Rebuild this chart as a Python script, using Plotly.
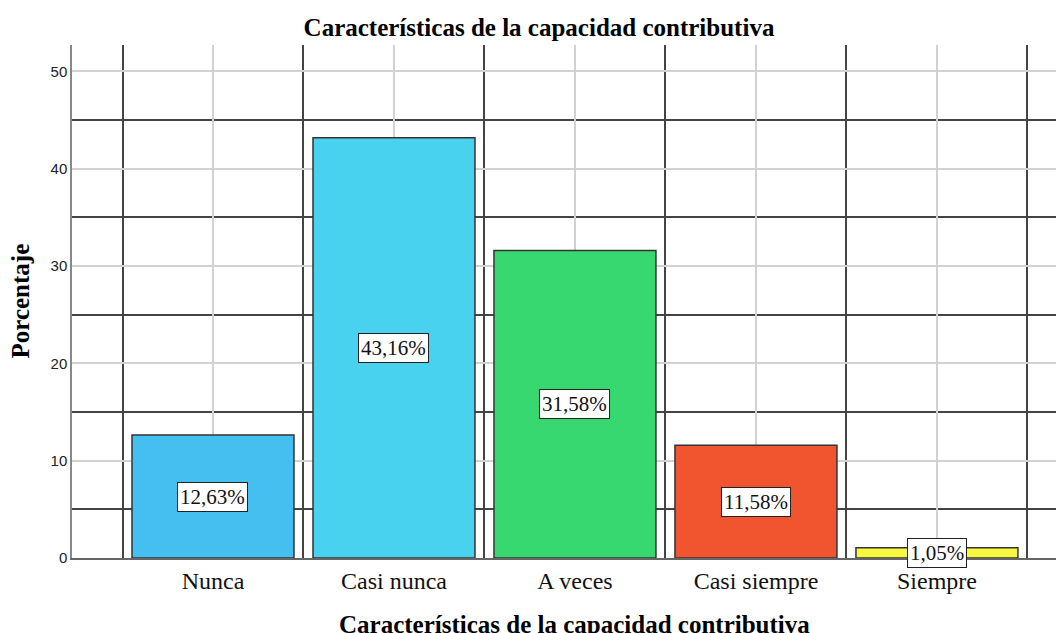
import plotly.graph_objects as go

categorias = ["Nunca", "Casi nunca", "A veces", "Casi siempre", "Siempre"]
porcentajes = [12.63, 43.16, 31.58, 11.58, 1.05]
colores = ["#44BFF0", "#48D2F0", "#38D870", "#F05530", "#F8F840"]
y_ticks = [0, 10, 20, 30, 40, 50]

serif = "Liberation Serif, Times New Roman, serif"
pos = list(range(len(categorias)))

fig = go.Figure()
fig.add_trace(go.Bar(
    x=pos, y=porcentajes, width=0.895,
    marker=dict(color=colores, line=dict(color="#333333", width=1.5)),
    hoverinfo="skip",
))

# etiquetas con caja blanca al centro de cada barra
for i, v in enumerate(porcentajes):
    fig.add_annotation(
        x=i, y=v / 2, text=f"{v:.2f}%".replace(".", ","),
        showarrow=False, bgcolor="white", bordercolor="#222222",
        borderwidth=1, borderpad=2,
        font=dict(family=serif, size=21, color="#111111"),
    )

# titulos de ejes como anotaciones para fijar su posición
fig.add_annotation(
    text="<b>Porcentaje</b>", xref="paper", yref="paper",
    x=-0.0524, y=0.5, xanchor="center", yanchor="middle",
    textangle=-90, showarrow=False,
    font=dict(family=serif, size=25, color="black"),
)
fig.add_annotation(
    text="<b>Características de la capacidad contributiva</b>",
    xref="paper", yref="paper", x=0.507, y=-0.1287,
    xanchor="center", yanchor="middle", showarrow=False,
    font=dict(family=serif, size=25, color="black"),
)

# la página deja 8px de margen, así que la figura es 8px más chica
fig.update_layout(
    width=1056, height=625,
    margin=dict(l=64, r=0, t=37, b=75),
    plot_bgcolor="white", paper_bgcolor="white",
    showlegend=False,
    title=dict(text="<b>Características de la capacidad contributiva</b>",
               x=531 / 1056, xanchor="center", y=1 - 19 / 625, yanchor="middle",
               font=dict(family=serif, size=25, color="black")),
)

fig.update_xaxes(
    range=[-0.779, 4.702], tickvals=pos, ticktext=categorias,
    showgrid=True, gridcolor="#d2d2d2", gridwidth=2,
    minor=dict(tickmode="array", tickvals=[-0.5, 0.5, 1.5, 2.5, 3.5, 4.5],
               showgrid=True, gridcolor="#444444", gridwidth=1.5),
    ticks="", zeroline=False, automargin=False,
    showline=True, linecolor="#666666", linewidth=1.5,
    tickfont=dict(family=serif, size=24, color="#111111"),
)

fig.update_yaxes(
    range=[0, 52.7], tickvals=y_ticks,
    showgrid=True, gridcolor="#d2d2d2", gridwidth=2,
    minor=dict(tickmode="array", tickvals=[5, 15, 25, 35, 45],
               showgrid=True, gridcolor="#444444", gridwidth=1.5),
    ticks="", zeroline=False, automargin=False,
    showline=True, linecolor="#888888", linewidth=1.5,
    tickfont=dict(family="Liberation Sans, Arial, sans-serif", size=15, color="#222222"),
)

fig.write_html("out.html")
